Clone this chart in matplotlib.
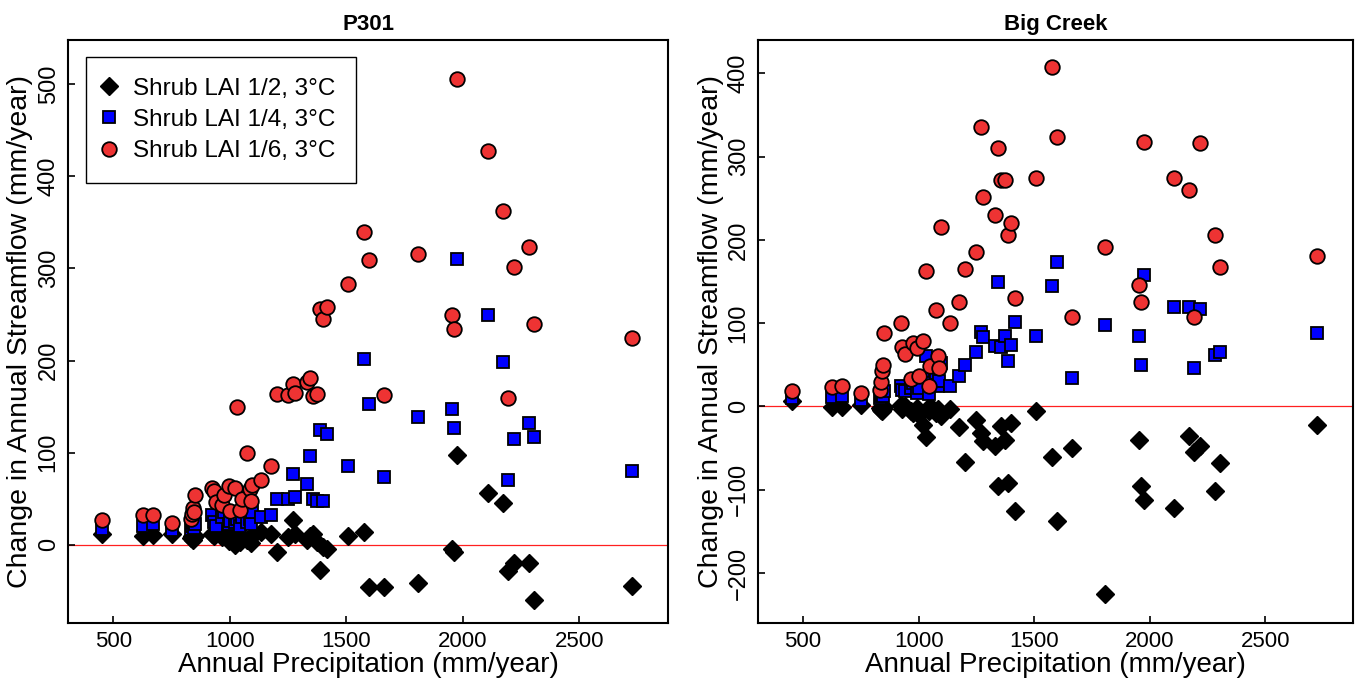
import matplotlib
matplotlib.use("Agg")
import matplotlib.pyplot as plt
from matplotlib.lines import Line2D

plt.rcParams['font.family'] = ['Liberation Sans', 'DejaVu Sans']

# Annual precipitation of each water year (mm/year)
precip = [450, 625, 670, 750, 832, 838, 842, 846, 850, 925, 930, 940, 965, 975,
          995, 1000, 1020, 1030, 1045, 1050, 1075, 1085, 1090, 1095, 1135, 1175,
          1200, 1250, 1270, 1280, 1330, 1345, 1355, 1372, 1385, 1400, 1417,
          1507, 1576, 1597, 1662, 1807, 1953, 1962, 1975, 2107, 2172, 2193,
          2219, 2283, 2305, 2725]

# P301 change in annual streamflow (mm/year)
p301_lai_half = [12, 9, 11, 12, 7, 9, 5, 8, 10, 12, 10, 14, 8, 12, 4, 9, 0, 6, 3, 7,
                 5, 7, 2, 10, 14, 12, -8, 8, 27, 12, 5, 10, 12, 3, -27, -2, -5,
                 9, 14, -46, -46, -42, -5, -8, 97, 56, 45, -28, -20, -20, -60, -45]
p301_lai_quarter = [17, 20, 22, 16, 17, 20, 25, 18, 22, 32, 25, 20, 30, 35, 22, 26, 25,
                    28, 20, 30, 25, 28, 22, 35, 30, 32, 50, 50, 77, 52, 66, 96, 50, 47,
                    125, 47, 120, 86, 202, 153, 74, 139, 147, 127, 310, 249, 198, 70,
                    115, 132, 117, 80]
p301_lai_sixth = [27, 32, 32, 24, 28, 33, 40, 36, 54, 62, 58, 46, 43, 54, 64, 37, 62,
                  150, 38, 50, 100, 60, 48, 65, 70, 86, 164, 163, 175, 165, 177, 181,
                  162, 164, 256, 245, 258, 283, 339, 309, 163, 316, 249, 234, 506,
                  427, 362, 159, 301, 323, 240, 224]

# Big Creek change in annual streamflow (mm/year)
bc_lai_half = [6, -1, -1, 2, -2, -4, -5, -3, -1, 2, -3, 0, -5, -8, -2, -10, -22, -37,
               -5, 0, -8, -3, -6, -12, -3, -25, -67, -16, -32, -42, -48, -96, -24,
               -40, -92, -20, -126, -5, -61, -137, -50, -225, -40, -96, -112, -122,
               -35, -55, -48, -102, -68, -22]
bc_lai_quarter = [10, 11, 12, 8, 10, 12, 15, 13, 18, 24, 20, 18, 22, 28, 16, 22, 35, 60,
                  15, 28, 40, 24, 30, 52, 24, 36, 50, 65, 90, 83, 73, 149, 71, 85, 55,
                  74, 102, 84, 145, 173, 34, 98, 85, 50, 158, 120, 119, 46, 117, 62,
                  65, 88]
bc_lai_sixth = [18, 23, 24, 16, 20, 29, 43, 50, 88, 100, 71, 63, 33, 76, 70, 37, 79,
                163, 24, 48, 116, 61, 46, 216, 100, 125, 165, 185, 336, 252, 230, 310,
                272, 272, 206, 220, 130, 274, 408, 324, 107, 192, 146, 126, 318, 274,
                260, 108, 316, 206, 168, 181]

series_labels = ['Shrub LAI 1/2, 3\u00b0C', 'Shrub LAI 1/4, 3\u00b0C', 'Shrub LAI 1/6, 3\u00b0C']
panel_titles = ['P301', 'Big Creek']
x_label = 'Annual Precipitation (mm/year)'
y_label = 'Change in Annual Streamflow (mm/year)'

styles = [dict(marker='D', ms=9.5, mfc='black', mec='black', mew=1.0),
          dict(marker='s', ms=8.5, mfc='#0000ff', mec='black', mew=1.3),
          dict(marker='o', ms=10.5, mfc='#ee3333', mec='black', mew=1.3)]

fig = plt.figure(figsize=(13.57, 6.85), dpi=100)
W, H = 1357, 685
ax1 = fig.add_axes([68 / W, (H - 623) / H, 600 / W, 583 / H])
ax2 = fig.add_axes([758 / W, (H - 623) / H, 595 / W, 583 / H])

panels = [(ax1, [p301_lai_half, p301_lai_quarter, p301_lai_sixth], (-85, 548), [0, 100, 200, 300, 400, 500]),
          (ax2, [bc_lai_half, bc_lai_quarter, bc_lai_sixth], (-260, 440), [-200, -100, 0, 100, 200, 300, 400])]

for (ax, data, ylim, yticks), title in zip(panels, panel_titles):
    ax.axhline(0, color='#ff2020', lw=0.9, zorder=1)
    for vals, st in zip(data, styles):
        ax.plot(precip, vals, ls='none', zorder=3, **st)
    ax.set_xlim(305, 2880)
    ax.set_ylim(*ylim)
    ax.set_xticks([500, 1000, 1500, 2000, 2500])
    ax.set_yticks(yticks)
    ax.tick_params(direction='in', length=5, width=1.2, pad=6)
    ax.tick_params(axis='x', labelsize=16)
    ax.tick_params(axis='y', labelsize=17, labelrotation=90)
    for lab in ax.get_yticklabels():
        lab.set_va('center')
    for sp in ax.spines.values():
        sp.set_linewidth(1.5)
    ax.set_title(title, fontsize=16, fontweight='bold', pad=7)
    ax.set_xlabel(x_label, fontsize=20, labelpad=0)
    ax.set_ylabel(y_label, fontsize=20.5, labelpad=3)

handles = [Line2D([], [], ls='none', **st) for st in styles]
leg = ax1.legend(handles, series_labels, loc='upper left', bbox_to_anchor=(0.03, 0.971),
                 borderaxespad=0, fontsize=17.5, frameon=True, fancybox=False,
                 edgecolor='black', framealpha=1, handletextpad=0.9, borderpad=0.85,
                 labelspacing=0.38, handlelength=0.2)
leg.get_frame().set_linewidth(1.0)

fig.savefig('out.png', dpi=100)
